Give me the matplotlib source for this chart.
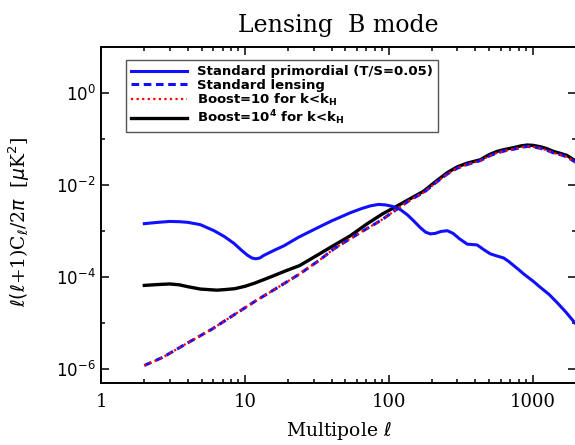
import matplotlib
matplotlib.use('Agg')
import matplotlib.pyplot as plt
from matplotlib.ticker import FixedLocator, NullFormatter, LogLocator

# multipoles and l(l+1)C_l/2pi values
ell_prim = [2, 2.5, 3, 3.5, 4, 4.9, 6.1, 7.2, 8.4, 9.5, 10.4, 11.2, 11.9, 12.7, 13.5, 15.9,
            18.7, 23.7, 31.8, 40, 54, 65, 75, 85, 95, 105, 120, 135, 148, 165, 180, 194, 210,
            230, 255, 280, 310, 351, 380, 411, 460, 508, 560, 629, 680, 738, 800, 866, 1000,
            1130, 1300, 1477, 1700, 2000]
cl_prim = [1.45e-3, 1.55e-3, 1.62e-3, 1.6e-3, 1.55e-3, 1.38e-3, 1.02e-3, 7.6e-4, 5.4e-4,
           3.8e-4, 3.0e-4, 2.6e-4, 2.5e-4, 2.6e-4, 2.95e-4, 3.8e-4, 4.8e-4, 7.4e-4, 1.17e-3,
           1.66e-3, 2.5e-3, 3.1e-3, 3.55e-3, 3.8e-3, 3.7e-3, 3.47e-3, 2.95e-3, 2.24e-3, 1.7e-3,
           1.2e-3, 9.5e-4, 8.7e-4, 8.9e-4, 9.8e-4, 1.02e-3, 8.9e-4, 6.8e-4, 5.2e-4, 5.1e-4,
           5.0e-4, 3.9e-4, 3.2e-4, 2.9e-4, 2.6e-4, 2.2e-4, 1.78e-4, 1.45e-4, 1.17e-4, 8.3e-5,
           6.0e-5, 4.2e-5, 2.8e-5, 1.74e-5, 9.5e-6]

ell_lens = [2, 2.7, 3.9, 5.9, 8.5, 12, 17, 24, 33, 41.5, 55, 70, 88, 114, 140, 175, 210, 255,
            300, 351, 433, 500, 566, 650, 738, 830, 914, 1000, 1130, 1250, 1393, 1550, 1730, 2000]
cl_lens = [1.2e-6, 1.82e-6, 3.55e-6, 7.4e-6, 1.55e-5, 3.1e-5, 6.0e-5, 1.17e-4, 2.34e-4,
           4.1e-4, 7.1e-4, 1.12e-3, 1.7e-3, 3.0e-3, 4.7e-3, 6.9e-3, 1.1e-2, 1.74e-2, 2.34e-2,
           2.8e-2, 3.4e-2, 4.3e-2, 5.0e-2, 5.6e-2, 6.0e-2, 6.6e-2, 6.9e-2, 6.8e-2, 6.3e-2,
           5.75e-2, 5.0e-2, 4.6e-2, 4.1e-2, 3.1e-2]
cl_boost10 = [1.2e-6, 1.82e-6, 3.55e-6, 7.4e-6, 1.55e-5, 3.1e-5, 6.0e-5, 1.17e-4, 2.34e-4,
              4.1e-4, 7.1e-4, 1.12e-3, 1.7e-3, 3.0e-3, 4.7e-3, 6.9e-3, 1.1e-2, 1.74e-2, 2.34e-2,
              2.8e-2, 3.4e-2, 4.3e-2, 5.0e-2, 5.6e-2, 6.0e-2, 6.6e-2, 6.9e-2, 6.8e-2, 6.3e-2,
              5.75e-2, 5.0e-2, 4.6e-2, 4.1e-2, 3.1e-2]

ell_b4 = [2, 2.5, 3, 3.5, 4, 4.9, 6.4, 7.5, 8.5, 10, 11.7, 15, 19, 24, 33, 42, 54, 70, 90, 114,
          140, 175, 210, 255, 300, 351, 433, 500, 566, 650, 738, 830, 914, 1000, 1130, 1250,
          1393, 1550, 1730, 2000]
cl_b4 = [6.6e-5, 6.9e-5, 7.1e-5, 6.8e-5, 6.2e-5, 5.5e-5, 5.2e-5, 5.4e-5, 5.6e-5, 6.3e-5,
         7.4e-5, 1.0e-4, 1.35e-4, 1.78e-4, 3.2e-4, 5.0e-4, 7.9e-4, 1.41e-3, 2.34e-3, 3.5e-3,
         5.0e-3, 7.4e-3, 1.17e-2, 1.86e-2, 2.5e-2, 3.0e-2, 3.55e-2, 4.6e-2, 5.4e-2, 6.0e-2,
         6.5e-2, 7.1e-2, 7.4e-2, 7.3e-2, 6.8e-2, 6.2e-2, 5.4e-2, 4.9e-2, 4.4e-2, 3.3e-2]

labels = ['Standard primordial (T/S=0.05)', 'Standard lensing',
          r'Boost=10 for k<k$_\mathbf{H}$', r'Boost=10$^\mathbf{4}$ for k<k$_\mathbf{H}$']

xticks = [1, 10, 100, 1000]
xticklabels = ['1', '10', '100', '1000']

fig = plt.figure(figsize=(5.75, 4.45), dpi=100)
ax = fig.add_axes([101/575, 1 - 383/445, 475/575, 336/445])

ax.plot(ell_prim, cl_prim, color='#1010ff', lw=2.2, label=labels[0], zorder=3)
ax.plot(ell_lens, cl_lens, color='#1010ff', lw=2.2, ls=(0, (2.5, 1.5)), label=labels[1], zorder=4)
ax.plot(ell_lens, cl_boost10, color='red', lw=1.6, ls=(0, (1, 1.5)), label=labels[2], zorder=5)
ax.plot(ell_b4, cl_b4, color='black', lw=2.4, label=labels[3], zorder=2)

ax.set_xscale('log')
ax.set_yscale('log')
ax.set_xlim(1, 2000)
ax.set_ylim(5e-7, 10)

ax.set_xticks(xticks)
ax.set_xticklabels(xticklabels, family='DejaVu Serif', fontsize=13)
ax.yaxis.set_major_locator(FixedLocator([1e-6, 1e-4, 1e-2, 1e0]))
ax.yaxis.set_minor_locator(FixedLocator([1e-5, 1e-3, 1e-1]))
ax.yaxis.set_minor_formatter(NullFormatter())
ax.xaxis.set_minor_locator(LogLocator(base=10, subs=range(2, 10)))
ax.xaxis.set_minor_formatter(NullFormatter())

ax.tick_params(which='both', direction='in', top=True, right=True, width=1.1)
ax.tick_params(which='major', length=6)
ax.tick_params(which='minor', length=3)
ax.tick_params(axis='x', pad=7)
ax.tick_params(axis='y', labelsize=12, pad=4)
for s in ax.spines.values():
    s.set_linewidth(1.4)

ax.set_xlabel(r'Multipole $\ell$', family='DejaVu Serif', fontsize=13.5, labelpad=6)
ax.set_ylabel(r'$\ell(\ell$+1)C$_\ell$/2$\pi$  [$\mu$K$^2$]', family='DejaVu Serif', fontsize=13.5)
ax.yaxis.set_label_coords(-0.145, 0.479)
ax.set_title('Lensing  B mode', family='DejaVu Serif', fontsize=17, pad=11)

leg = ax.legend(loc='upper left', bbox_to_anchor=(0.0526, 0.961), borderaxespad=0,
                prop={'weight': 'bold', 'size': 9.5}, handlelength=4.2, handletextpad=0.8,
                labelspacing=0.02, borderpad=0.4, fancybox=False, framealpha=1)
leg.get_frame().set_edgecolor('#555555')
leg.get_frame().set_linewidth(1.0)

plt.savefig('out.png', dpi=100)
